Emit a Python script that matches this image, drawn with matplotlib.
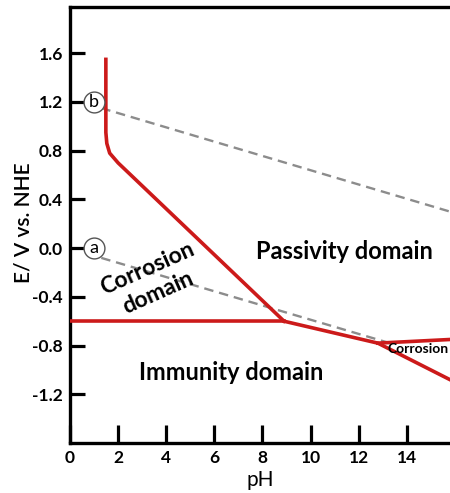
import matplotlib
matplotlib.use("Agg")
import matplotlib.pyplot as plt

plt.rcParams['font.family'] = ['Lato', 'DejaVu Sans']

# -----------------------------------
# Data
# -----------------------------------
# upper red boundary: vertical branch, bend, then sloping line to the triple point
upper_ph = [1.49, 1.49, 1.53, 1.65, 2.00, 8.90]
upper_e = [1.55, 0.95, 0.86, 0.78, 0.70, -0.60]

# horizontal red boundary (immunity / corrosion)
flat_ph = [0.0, 8.90]
flat_e = [-0.60, -0.60]

# lower red boundary on the alkaline side
low_ph = [8.90, 12.80, 15.80]
low_e = [-0.60, -0.78, -1.08]

# boundary of the alkaline corrosion wedge
wedge_ph = [12.80, 15.80]
wedge_e = [-0.78, -0.75]

# water stability lines (dashed)
line_b_ph = [1.30, 15.80]
line_b_e = [1.15, 0.30]
line_a_ph = [1.30, 13.30]
line_a_e = [-0.08, -0.78]

x_ticks = [0, 2, 4, 6, 8, 10, 12, 14]
y_ticks = [1.6, 1.2, 0.8, 0.4, 0.0, -0.4, -0.8, -1.2]

RED = "#cc1a1a"
GREY = "#8c8c8c"

fig = plt.figure(figsize=(4.5, 4.93), dpi=100)
ax = fig.add_axes([0.1556, 0.1014, 0.8444, 0.8844])

ax.plot(line_b_ph, line_b_e, color=GREY, lw=1.7, ls=(0, (4, 2.5)), zorder=2)
ax.plot(line_a_ph, line_a_e, color=GREY, lw=1.7, ls=(0, (4, 2.5)), zorder=2)

for xs, ys in [(upper_ph, upper_e), (flat_ph, flat_e), (low_ph, low_e), (wedge_ph, wedge_e)]:
    ax.plot(xs, ys, color=RED, lw=2.6, solid_joinstyle="round", zorder=3)

# circled labels a / b
for lab, yv in [("b", 1.2), ("a", 0.0)]:
    ax.plot(1.0, yv, marker="o", ms=15, mfc="white", mec="#555555", mew=1.0,
            zorder=4, clip_on=False)
    ax.text(1.0, yv, lab, ha="center", va="center", fontsize=13, zorder=5)

# domain labels
ax.text(11.4, -0.03, "Passivity domain", ha="center", va="center",
        fontsize=17, fontweight="bold")
ax.text(6.7, -1.02, "Immunity domain", ha="center", va="center",
        fontsize=17, fontweight="bold")
ax.text(3.45, -0.27, "Corrosion\ndomain", ha="center", va="center",
        fontsize=16.5, fontweight="bold", rotation=24, linespacing=1.3)
ax.text(13.22, -0.83, "Corrosion", ha="left", va="center",
        fontsize=10, fontweight="bold")

ax.set_xlim(0, 15.8)
ax.set_ylim(-1.6, 1.98)
ax.set_xticks(x_ticks)
ax.set_yticks(y_ticks)
ax.set_xticklabels([str(t) for t in x_ticks], fontsize=12.5, fontweight="bold")
ax.set_yticklabels([f"{t:.1f}" for t in y_ticks], fontsize=12.5, fontweight="bold")
ax.tick_params(axis="x", direction="in", length=13, width=2.3, pad=5)
ax.tick_params(axis="y", direction="in", length=11, width=2.3, pad=5)

for side in ["left", "bottom", "top"]:
    ax.spines[side].set_linewidth(2.4)
ax.spines["right"].set_visible(False)

ax.set_xlabel("pH", fontsize=15)
ax.xaxis.set_label_coords(0.5, -0.062)
ax.set_ylabel("E/ V vs. NHE", fontsize=15, fontweight="semibold")
ax.yaxis.set_label_coords(-0.097, 0.505)

fig.savefig("out.png", dpi=100)
